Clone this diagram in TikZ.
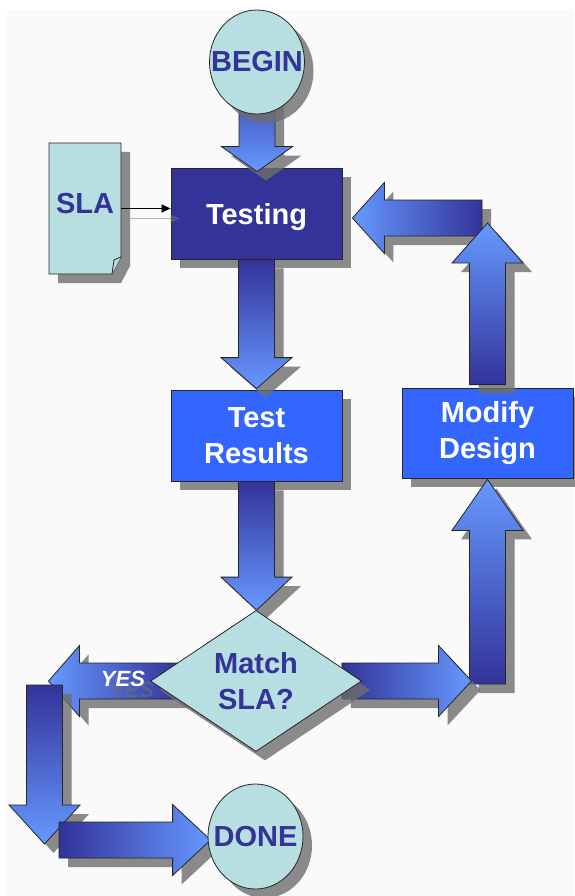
\documentclass[tikz,border=0pt]{standalone}
\usepackage{fontspec}
\setmainfont{Liberation Sans}
\usetikzlibrary{shapes.geometric,calc,arrows.meta,shadows}
\pgfdeclarelayer{arrowlayer}
\pgfdeclarelayer{front}
\pgfsetlayers{main,arrowlayer,front}

\definecolor{adark}{HTML}{333399}
\definecolor{alight}{HTML}{6699FF}
\definecolor{boxblue}{HTML}{3366FF}
\definecolor{pale}{HTML}{B7DEE0}
\definecolor{inkblue}{HTML}{333399}
\definecolor{shadowgrey}{HTML}{6E6E6E}
\definecolor{pagebg}{HTML}{FAFAFA}

% half widths of the block arrows: shaft and head
\newcommand\fatSW{18pt}
\newcommand\fatHW{35.5pt}

\tikzset{
  outline/.style={draw=black!85, line width=0.8pt},
  shadowed/.style={drop shadow={shadow xshift=9pt, shadow yshift=-9pt, fill=shadowgrey, opacity=0.8}},
  boxfont/.style={font=\fontsize{29pt}{36pt}\selectfont\bfseries},
  yesfont/.style={font=\fontsize{22pt}{22pt}\selectfont\bfseries\itshape, inner sep=0pt},
  darkbox/.style={rectangle, outline, shadowed, fill=adark, text=white, boxfont,
    minimum width=171pt, minimum height=91pt, inner sep=0pt},
  bluebox/.style={darkbox, fill=boxblue},
  paleshape/.style={outline, shadowed, fill=pale, inner sep=0pt},
  paletext/.style={boxfont, text=inkblue, align=center, inner sep=0pt},
  fat/.style={outline, shadowed},
}

% block arrows: #1 start (sets the arrow's axis), #2 tip, #3 head length
\newcommand\fatdown[3]{%
  \shadedraw[fat, top color=adark, bottom color=alight]
    let \p1=(#1), \p2=(#2) in
    (\x1-\fatSW,\y1) -- (\x1+\fatSW,\y1) -- (\x1+\fatSW,\y2+#3)
    -- (\x1+\fatHW,\y2+#3) -- (\x1,\y2) -- (\x1-\fatHW,\y2+#3)
    -- (\x1-\fatSW,\y2+#3) -- cycle;}
\newcommand\fatup[3]{%
  \shadedraw[fat, bottom color=adark, top color=alight]
    let \p1=(#1), \p2=(#2) in
    (\x1-\fatSW,\y1) -- (\x1+\fatSW,\y1) -- (\x1+\fatSW,\y2-#3)
    -- (\x1+\fatHW,\y2-#3) -- (\x1,\y2) -- (\x1-\fatHW,\y2-#3)
    -- (\x1-\fatSW,\y2-#3) -- cycle;}
\newcommand\fatright[3]{%
  \shadedraw[fat, left color=adark, right color=alight]
    let \p1=(#1), \p2=(#2) in
    (\x1,\y1-\fatSW) -- (\x2-#3,\y1-\fatSW) -- (\x2-#3,\y1-\fatHW)
    -- (\x2,\y1) -- (\x2-#3,\y1+\fatHW) -- (\x2-#3,\y1+\fatSW)
    -- (\x1,\y1+\fatSW) -- cycle;}
\newcommand\fatleft[3]{%
  \shadedraw[fat, left color=alight, right color=adark]
    let \p1=(#1), \p2=(#2) in
    (\x1,\y1-\fatSW) -- (\x2+#3,\y1-\fatSW) -- (\x2+#3,\y1-\fatHW)
    -- (\x2,\y1) -- (\x2+#3,\y1+\fatHW) -- (\x2+#3,\y1+\fatSW)
    -- (\x1,\y1+\fatSW) -- cycle;}

\begin{document}
\begin{tikzpicture}[x=1pt, y=-1pt]
\useasboundingbox (0,0) rectangle (574,896);
\fill[pagebg] (7,10) rectangle (574,896);

% the SLA sheet with its curled corner
\draw[outline, shadowed, fill=pale]
  (49,143) -- (121,143) -- (121,257) -- (112,274) -- (49,274) -- cycle;
\draw[outline, fill=pale] (121,257) -- (114,260) -- (112,274);
\node[boxfont, text=inkblue, text height=21pt, text depth=11pt, inner sep=0pt,
      minimum width=72pt] (SLA) at (85,208.5) {SLA};

% process boxes
\node[darkbox, text height=21pt, text depth=0pt] (Testing) at (256.5,213.5) {Testing};
\node[bluebox, align=center] (Results) at (256.5,435.5) {Test\\Results};
\node[bluebox, align=center, minimum height=90pt] (Modify) at (487.5,433) {Modify\\Design};

% SLA feeds the testing step
\draw[shadowgrey, opacity=0.5, line width=1pt, -{Triangle[length=9pt,width=8pt]}]
  ($(SLA.east)+(9,10)$) -- ($(SLA.east -| Testing.west)+(9,10)$);
\draw[line width=0.9pt, -{Triangle[length=9pt,width=8pt]}]
  (SLA.east) -- (SLA.east -| Testing.west);

% terminals and decision
\begin{pgfonlayer}{front}
\node[paleshape, ellipse, minimum width=95pt, minimum height=104pt,
      label={[paletext]center:BEGIN}] (BEGIN) at (257,62) {};
\node[paleshape, diamond, minimum width=211pt, minimum height=141pt,
      label={[paletext]center:Match\\SLA?}] (Match) at (256,681) {};
\node[paleshape, ellipse, minimum width=95pt, minimum height=105pt,
      label={[paletext]center:DONE}] (DONE) at (255.5,836.5) {};
\node[yesfont, text=shadowgrey, text opacity=0.55] (yesShade) at (132,690) {YES};
\node[yesfont, text=white] (yes) at (123,679) {YES};
\end{pgfonlayer}

% bends of the loop
\coordinate (bendT) at (482,218);
\coordinate (bendTtip) at (487.5,223);
\coordinate (bendR) at (487.5,684);
\coordinate (bendL) at (44.5,685);
\coordinate (bendB) at (44.5,844);

% block arrows
\begin{pgfonlayer}{arrowlayer}
\fatdown{BEGIN.center}{$(Testing.north)+(0,4)$}{25pt}
\fatdown{Testing.south}{$(Results.north)+(0,-1)$}{31pt}
\fatdown{Results.south}{Match.north}{33pt}
\fatleft{bendT}{$(Testing.east)+(10,0)$}{32pt}
\fatup{$(Modify.north)+(0,-3)$}{bendTtip}{40pt}
\fatup{bendR}{$(Modify.south)+(0,1)$}{51pt}
\fatright{$(Match.east)+(-20,0)$}{$(bendR)+(-16,0)$}{33pt}
\fatleft{$(Match.west)+(30,0)$}{$(bendL)+(4,0)$}{31pt}
\fatdown{bendL}{bendB}{39pt}
\fatright{$(bendB)+(14.5,-4)$}{$(DONE.west)+(3,0)$}{38pt}
\end{pgfonlayer}
\end{tikzpicture}
\end{document}
